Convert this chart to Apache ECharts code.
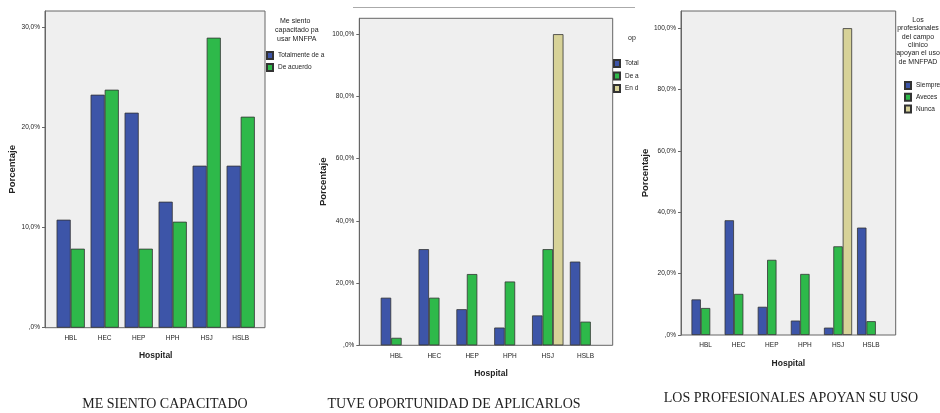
<!DOCTYPE html>
<html>
<head>
<meta charset="utf-8">
<title>MNFPAD por hospital</title>
<script src="https://cdn.jsdelivr.net/npm/echarts@6/dist/echarts.min.js"></script>
<style>
  html, body { margin: 0; padding: 0; background: #fff; }
  #chart { width: 940px; height: 413px; }
</style>
</head>
<body>
<div id="chart"></div>
<script>
// datos (porcentaje por hospital)
var hospitales = ['HBL', 'HEC', 'HEP', 'HPH', 'HSJ', 'HSLB'];

// 1. Me siento capacitado para usar MNFPAD
var capTotalmente = [10.8, 23.3, 21.5, 12.6, 16.2, 16.2];
var capDeAcuerdo = [7.9, 23.8, 7.9, 10.6, 29.0, 21.1];

// 2. Tuve oportunidad de aplicarlos
var opTotalmente = [15.3, 30.9, 11.6, 5.7, 9.6, 26.9];
var opDeAcuerdo = [2.4, 15.3, 22.9, 20.5, 30.9, 7.6];
var opEnDesacuerdo = [null, null, null, null, 100, null];

// 3. Los profesionales del campo clinico apoyan el uso de MNFPAD
var proSiempre = [11.6, 37.4, 9.2, 4.7, 2.4, 35.0];
var proAveces = [8.8, 13.4, 24.5, 19.9, 28.9, 4.5];
var proNunca = [null, null, null, null, 100, null];

var AZUL = '#3d55a8', VERDE = '#2eb94a', BEIGE = '#d7d298';
var FONT = 'Liberation Sans';

var chartDom = document.getElementById('chart');
var myChart = echarts.init(chartDom);

function pct(v) {
  if (v % 10 !== 0) return '';
  return v === 0 ? ',0%' : v.toFixed(1).replace('.', ',') + '%';
}

// marco gris (rect) y grid interior de las barras
function marco(left, right, top, bottom) {
  return {
    left: left, width: right - left, top: top, height: bottom - top,
    show: true, backgroundColor: '#efefef', borderColor: '#666', borderWidth: 1
  };
}
function interior(left, right, top, bottom) {
  return { left: left, width: right - left, top: top, height: bottom - top };
}

function ejeX(grid, gap) {
  return {
    type: 'category', gridIndex: grid, data: hospitales,
    axisLine: { show: false }, axisTick: { show: false },
    axisLabel: { fontSize: 6.5, fontFamily: FONT, color: '#222', margin: 7 },
    name: 'Hospital', nameLocation: 'middle', nameGap: gap,
    nameTextStyle: { fontSize: 8.5, fontWeight: 'bold', fontFamily: FONT, color: '#222' }
  };
}
function ejeY(grid, max, interval, offset, gap) {
  return {
    type: 'value', gridIndex: grid, min: 0, max: max, interval: interval, offset: offset,
    splitLine: { show: false },
    axisLine: { show: true, lineStyle: { color: '#666' } },
    axisTick: { show: true, length: 3, lineStyle: { color: '#666' } },
    axisLabel: { fontSize: 6.5, fontFamily: FONT, color: '#222', margin: 5, formatter: pct, showMaxLabel: false },
    name: 'Porcentaje', nameLocation: 'middle', nameGap: gap,
    nameTextStyle: { fontSize: 9.5, fontWeight: 'bold', fontFamily: FONT, color: '#222' }
  };
}
function barra(name, data, color, ax, gap) {
  return {
    name: name, type: 'bar', data: data, xAxisIndex: ax, yAxisIndex: ax,
    barGap: 0, barCategoryGap: gap,
    itemStyle: { color: color, borderColor: '#333', borderWidth: 0.8 }
  };
}
function leyenda(names, left, top, gap, w) {
  return {
    data: names, orient: 'vertical', left: left, top: top, icon: 'rect',
    itemWidth: 6, itemHeight: 7, itemGap: gap, padding: 0, selectedMode: false,
    textStyle: { fontSize: 6.5, fontFamily: FONT, color: '#222', width: w, overflow: 'truncate', ellipsis: '' }
  };
}
function texto(str, x, y, align, w) {
  var st = { text: str, fontSize: 7, fontFamily: FONT, fill: '#222', align: align, verticalAlign: 'middle' };
  if (w) { st.width = w; st.overflow = 'truncate'; st.ellipsis = ''; }
  return { type: 'text', x: x, y: y, style: st, silent: true };
}
function titulo(str, cx, y) {
  return {
    type: 'text', x: cx, y: y, silent: true,
    style: { text: str, fontSize: 14, fontFamily: 'Liberation Serif', fill: '#222', align: 'center', verticalAlign: 'middle' }
  };
}

var option = {
  animation: false,
  grid: [
    marco(45, 265, 11, 327.7), interior(53.7, 257.7, 11, 327.7),
    marco(359.3, 612.7, 18.3, 345.3), interior(377.5, 604.5, 18.3, 345.3),
    marco(681, 895.7, 11, 335), interior(689, 887.7, 11, 335)
  ],
  xAxis: [ejeX(1, 23), ejeX(3, 24), ejeX(5, 24)],
  yAxis: [
    ejeY(1, 31.67, 10, 8.7, 26),
    ejeY(3, 105.1, 20, 18.2, 25.5),
    ejeY(5, 105.6, 20, 8, 30)
  ],
  legend: [
    leyenda(['Totalmente de acuerdo', 'De acuerdo'], 266, 51, 3, 50),
    leyenda(['Totalmente de acuerdo ', 'De acuerdo ', 'En desacuerdo'], 613, 59, 3.5, 17),
    leyenda(['Siempre', 'Aveces', 'Nunca'], 904, 81, 2.7, 30)
  ],
  series: [
    barra('Totalmente de acuerdo', capTotalmente, AZUL, 0, '17%'),
    barra('De acuerdo', capDeAcuerdo, VERDE, 0, '17%'),
    barra('Totalmente de acuerdo ', opTotalmente, AZUL, 1, '17%'),
    barra('De acuerdo ', opDeAcuerdo, VERDE, 1, '17%'),
    barra('En desacuerdo', opEnDesacuerdo, BEIGE, 1, '17%'),
    barra('Siempre', proSiempre, AZUL, 2, '15%'),
    barra('Aveces', proAveces, VERDE, 2, '15%'),
    barra('Nunca', proNunca, BEIGE, 2, '15%')
  ],
  graphic: [
    // linea gris sobre el segundo grafico
    { type: 'line', silent: true, shape: { x1: 353, y1: 7.5, x2: 635, y2: 7.5 }, style: { stroke: '#aaa', lineWidth: 1 } },
    // titulo de leyenda 1 (recortado por el borde)
    texto('Me siento', 280, 21, 'left'),
    texto('capacitado para', 275, 30, 'left', 46),
    texto('usar MNFPAD', 277, 39, 'left', 42),
    // titulo de leyenda 2 (recortado)
    texto('oportunidad', 628, 38, 'left', 10),
    // titulo de leyenda 3
    texto('Los', 918, 20, 'center'),
    texto('profesionales', 918, 28.3, 'center'),
    texto('del campo', 918, 36.6, 'center'),
    texto('clínico', 918, 45, 'center'),
    texto('apoyan el uso', 918, 53.3, 'center'),
    texto('de MNFPAD', 918, 61.6, 'center'),
    titulo('ME SIENTO CAPACITADO', 165, 404),
    titulo('TUVE OPORTUNIDAD DE APLICARLOS', 454, 404),
    titulo('LOS PROFESIONALES APOYAN SU USO', 791, 398)
  ]
};

myChart.setOption(option);
</script>
</body>
</html>
